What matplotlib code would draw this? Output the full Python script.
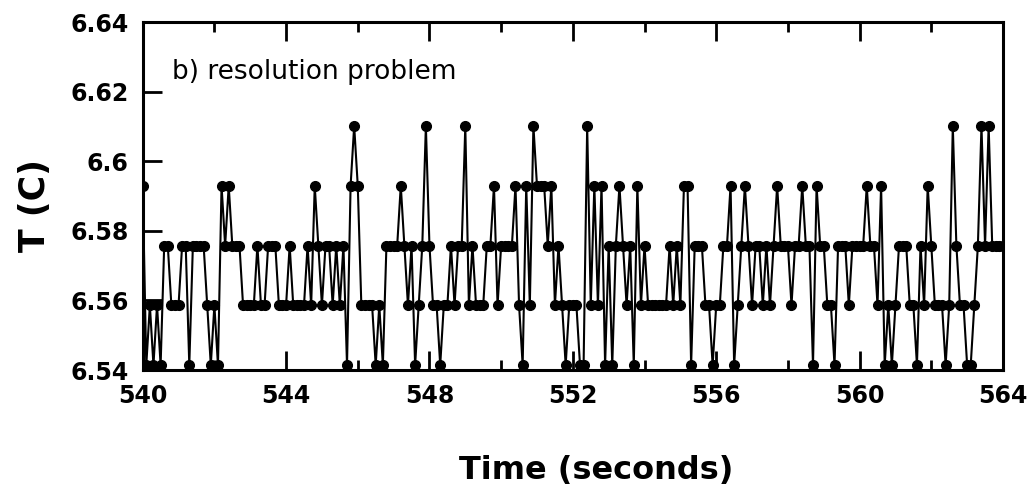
import matplotlib
matplotlib.use("Agg")
import matplotlib.pyplot as plt
import numpy as np

# Niveles cuantizados del sensor (resolución ~0.017 C)
niveles = [6.5414, 6.5586, 6.5758, 6.5930, 6.6102]

# Índice de nivel por muestra (10 Hz, 540.0 -> 564.0 s)
indice_nivel = [
    3, 0, 1, 0, 1, 0, 2, 2, 1, 1, 1, 2, 2, 0, 2, 2, 2, 2, 1, 0,
    1, 0, 3, 2, 3, 2, 2, 2, 1, 1, 1, 1, 2, 1, 1, 2, 2, 2, 1, 1,
    1, 2, 1, 1, 1, 1, 2, 1, 3, 2, 1, 2, 2, 1, 2, 1, 2, 0, 3, 4,
    3, 1, 1, 1, 1, 0, 1, 0, 2, 2, 2, 2, 3, 2, 1, 2, 0, 1, 2, 4,
    2, 1, 1, 0, 1, 1, 2, 1, 2, 2, 4, 1, 2, 1, 1, 1, 2, 2, 3, 1,
    2, 2, 2, 2, 3, 1, 0, 3, 1, 4, 3, 3, 3, 2, 3, 1, 2, 1, 0, 1,
    1, 1, 0, 0, 4, 1, 3, 1, 3, 0, 2, 0, 2, 3, 2, 1, 2, 0, 3, 1,
    2, 1, 1, 1, 1, 1, 1, 2, 1, 2, 1, 3, 3, 0, 2, 2, 2, 1, 1, 0,
    1, 1, 2, 2, 3, 0, 1, 2, 3, 2, 1, 2, 2, 1, 2, 1, 2, 3, 2, 2,
    2, 1, 2, 2, 3, 2, 2, 0, 3, 2, 2, 1, 1, 0, 2, 2, 2, 1, 2, 2,
    2, 2, 3, 2, 2, 1, 3, 0, 1, 0, 1, 2, 2, 2, 1, 1, 0, 2, 1, 3,
    2, 1, 1, 1, 0, 1, 4, 2, 1, 1, 0, 0, 1, 2, 4, 2, 4, 2, 2, 2,
    2,
]

t_inicio = 540.0
dt = 0.1

x_ticks = [540, 544, 548, 552, 556, 560, 564]
x_minor = [542, 546, 550, 554, 558, 562]
y_ticks = [6.54, 6.56, 6.58, 6.60, 6.62, 6.64]
y_labels = ["6.54", "6.56", "6.58", "6.6", "6.62", "6.64"]

tiempo = t_inicio + dt * np.arange(len(indice_nivel))
temperatura = np.array(niveles)[indice_nivel]

fig = plt.figure(figsize=(10.34, 4.94), dpi=100)
fig.patch.set_facecolor("white")
ax = fig.add_axes([0.138, 0.251, 0.832, 0.704])

ax.plot(tiempo, temperatura, color="black", linewidth=1.5,
        marker="o", markersize=7, markerfacecolor="black",
        markeredgecolor="black")

ax.set_xlim(540, 564)
ax.set_ylim(6.54, 6.64)

ax.set_xticks(x_ticks)
ax.set_xticks(x_minor, minor=True)
ax.set_yticks(y_ticks)
ax.set_yticklabels(y_labels)

ax.tick_params(axis="both", which="major", direction="in", length=14, width=2,
               top=True, right=False, labelsize=17, pad=10)
ax.tick_params(axis="x", which="minor", direction="in", length=7, width=2,
               top=True)
for lab in ax.get_xticklabels() + ax.get_yticklabels():
    lab.set_fontweight("bold")

for s in ax.spines.values():
    s.set_linewidth(2.2)

ax.text(0.034, 0.856, "b) resolution problem", transform=ax.transAxes,
        fontsize=19, va="center", ha="left")

fig.text(0.034, 0.585, "T (C)", rotation=90, fontsize=25, fontweight="bold",
         ha="center", va="center")
fig.text(0.577, 0.048, "Time (seconds)", fontsize=23, fontweight="bold",
         ha="center", va="center")

fig.savefig("out.png", dpi=100, facecolor="white")
plt.close(fig)
